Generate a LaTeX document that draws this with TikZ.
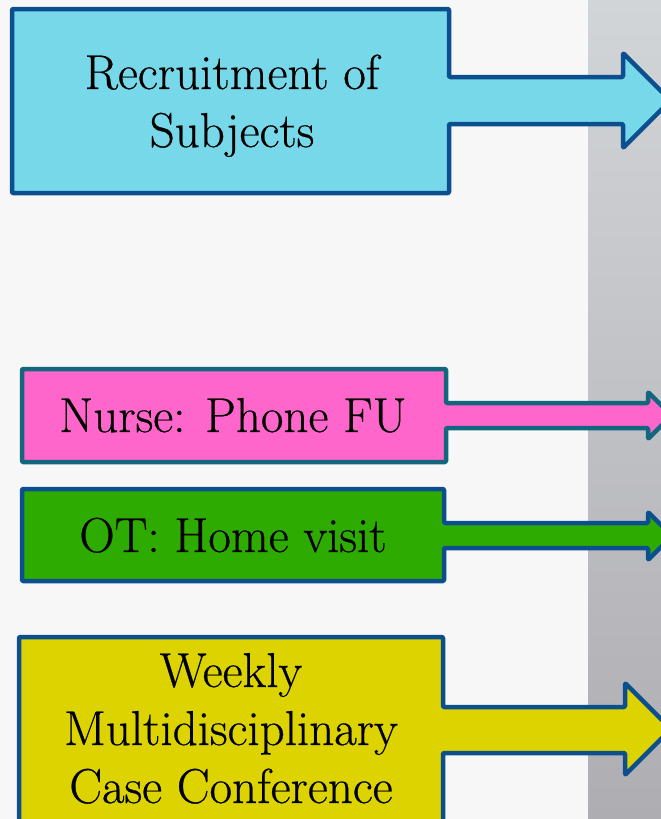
\documentclass[tikz,border=0pt]{standalone}
\usepackage{fontspec}
\newfontfamily\labfont{Latin Modern Roman}[FakeBold=0.5]
\usetikzlibrary{calc}
\definecolor{bgw}{HTML}{F7F7F7}
\definecolor{grayTop}{HTML}{D2D5D8}
\definecolor{grayBot}{HTML}{AEADB2}
\definecolor{cyanFill}{HTML}{76D8E8}
\definecolor{pinkFill}{HTML}{FF66CC}
\definecolor{greenFill}{HTML}{2EAB00}
\definecolor{yellowFill}{HTML}{DDD300}
\definecolor{blueLine}{HTML}{0B4F8F}
\definecolor{tealLine}{HTML}{12667E}
\tikzset{
  x=1pt, y=-1pt,
  arrowbox/.style={line width=4.5pt, line join=round, rounded corners=1pt},
  label/.style={font=\labfont\fontsize{49}{58}\selectfont, align=center, inner sep=0pt, text=black}
}
\begin{document}
\begin{tikzpicture}
\useasboundingbox (0,0) rectangle (661,819);
\clip (0,0) rectangle (661,819);
\fill[bgw] (0,0) rectangle (661,819);
\shade[top color=grayTop, bottom color=grayBot] (588,0) rectangle (661,819);
% box 1
\draw[arrowbox, draw=blueLine, fill=cyanFill]
  (12,9) -- (449,9) -- (449,77) -- (623,77) -- (623,53) -- (670.5,100.5) -- (623,148) -- (623,124) -- (449,124) -- (449,193) -- (12,193) -- cycle;
\node[label, anchor=base] (recruit) at (232,147) {Recruitment of\\Subjects};
% box 2
\draw[arrowbox, draw=tealLine, fill=pinkFill]
  (22,369) -- (446,369) -- (446,403) -- (648,403) -- (648,392) -- (671.5,415.5) -- (648,439) -- (648,428) -- (446,428) -- (446,462) -- (22,462) -- cycle;
\node[label, anchor=base] (nurse) at (233,432) {Nurse: Phone FU};
% box 3
\draw[arrowbox, draw=blueLine, fill=greenFill]
  (22,489) -- (444,489) -- (444,523) -- (648,523) -- (648,512) -- (672,536) -- (648,560) -- (648,548) -- (444,548) -- (444,581) -- (22,581) -- cycle;
\node[label, anchor=base] (ot) at (233,552) {OT: Home visit};
% box 4
\draw[arrowbox, draw=blueLine, fill=yellowFill]
  (19,637) -- (443,637) -- (443,707) -- (625,707) -- (625,683) -- (671,729) -- (625,775) -- (625,753) -- (443,753) -- (443,840) -- (19,840) -- cycle;
\node[label, anchor=base] (weekly) at (231,803) {Weekly\\Multidisciplinary\\Case Conference};
\end{tikzpicture}
\end{document}
